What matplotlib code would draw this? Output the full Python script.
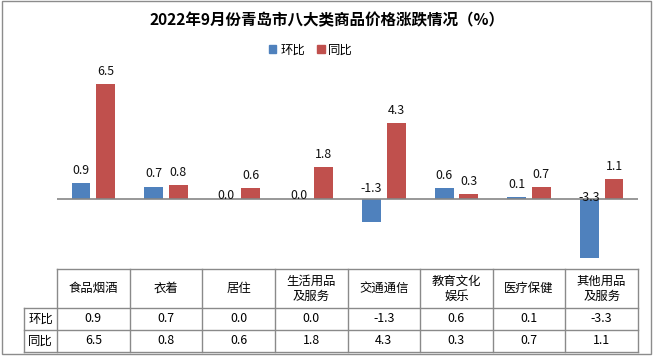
import matplotlib
matplotlib.use('Agg')
import matplotlib.pyplot as plt
from matplotlib.patches import Patch, Rectangle
import numpy as np

plt.rcParams['font.family'] = ['Noto Sans CJK SC', 'DejaVu Sans']

TITLE = '2022年9月份青岛市八大类商品价格涨跌情况（%）'
categorias = ['食品烟酒', '衣着', '居住', '生活用品\n及服务', '交通通信',
              '教育文化\n娱乐', '医疗保健', '其他用品\n及服务']
series_nomes = ['环比', '同比']
huanbi = [0.9, 0.7, 0.0, 0.0, -1.3, 0.6, 0.1, -3.3]
tongbi = [6.5, 0.8, 0.6, 1.8, 4.3, 0.3, 0.7, 1.1]

AZUL = '#4F81BD'
VERMELHO = '#C0504D'
CINZA = '#868686'
FS = 8.9

W, H = 654, 358
fig = plt.figure(figsize=(W / 100, H / 100), dpi=100)


def px(x0, y0, x1, y1):
    # retangulo em pixels -> coordenadas da figura
    return [x0 / W, 1 - y1 / H, (x1 - x0) / W, (y1 - y0) / H]


# area do grafico (pixels medidos na referencia)
AX_L, AX_R, AX_T, AX_B = 57, 638, 57, 270
ax = fig.add_axes(px(AX_L, AX_T, AX_R, AX_B))
x = np.arange(len(categorias))
larg = 0.26
desl = 0.17
ax.bar(x - desl, huanbi, width=larg, color=AZUL, zorder=2)
ax.bar(x + desl, tongbi, width=larg, color=VERMELHO, zorder=2)
ax.set_xlim(-0.5, len(categorias) - 0.5)
ax.set_ylim(-4, 8)
ax.axhline(0, color=CINZA, lw=1.2, zorder=3)
ax.axis('off')

# rotulos de dados (deslocamento em px acima da barra / do eixo)
off_hb = {2: 4, 3: 4, 4: 11, 7: 2}
for i, v in enumerate(huanbi):
    dy = off_hb.get(i, 13)
    ax.annotate(f'{v:.1f}', (x[i] - desl, max(v, 0)), xytext=(0, dy * 0.72),
                textcoords='offset points', ha='center', va='center',
                fontsize=FS, color='#111111', zorder=4)
for i, v in enumerate(tongbi):
    ax.annotate(f'{v:.1f}', (x[i] + desl, max(v, 0)), xytext=(0, 12.5 * 0.72),
                textcoords='offset points', ha='center', va='center',
                fontsize=FS, color='#111111', zorder=4)

# camada de sobreposicao em pixels
ov = fig.add_axes([0, 0, 1, 1], zorder=-1)
ov.set_xlim(0, W)
ov.set_ylim(H, 0)
ov.axis('off')
ov.add_patch(Rectangle((2, 1), 649, 353, fill=False, ec='#8c8c8c', lw=1))

fig.text(0.5, 1 - 20 / H, TITLE, ha='center', va='center',
         fontsize=11.2, fontweight='bold')

fig.legend(handles=[Patch(color=AZUL, label=series_nomes[0]),
                    Patch(color=VERMELHO, label=series_nomes[1])],
           loc='center', bbox_to_anchor=(311 / W, 1 - 50 / H), ncol=2,
           frameon=False, fontsize=FS, handlelength=0.6, handleheight=0.6,
           handletextpad=0.3, columnspacing=1.0, borderpad=0)

# tabela de dados
LINHA = '#8a8a8a'
col_w = (AX_R - AX_L) / len(categorias)
y_head0, y_head1, y_r1, y_r2 = 269, 308, 330, 352
lab_x0 = 24
ov.plot([AX_L, AX_R], [y_head0, y_head0], color=LINHA, lw=1)
for yy in (y_head1, y_r1, y_r2):
    ov.plot([lab_x0, AX_R], [yy, yy], color=LINHA, lw=1)
ov.plot([lab_x0, lab_x0], [y_head1, y_r2], color=LINHA, lw=1)
for k in range(len(categorias) + 1):
    xx = AX_L + k * col_w
    ov.plot([xx, xx], [y_head0, y_r2], color=LINHA, lw=1)

for k, nome in enumerate(categorias):
    cx = AX_L + (k + 0.5) * col_w
    ov.text(cx, (y_head0 + y_head1) / 2, nome, ha='center', va='center',
            fontsize=FS, linespacing=1.2)
    ov.text(cx, (y_head1 + y_r1) / 2, f'{huanbi[k]:.1f}', ha='center',
            va='center', fontsize=FS)
    ov.text(cx, (y_r1 + y_r2) / 2, f'{tongbi[k]:.1f}', ha='center',
            va='center', fontsize=FS)
ov.text((lab_x0 + AX_L) / 2, (y_head1 + y_r1) / 2, series_nomes[0],
        ha='center', va='center', fontsize=FS)
ov.text((lab_x0 + AX_L) / 2, (y_r1 + y_r2) / 2, series_nomes[1],
        ha='center', va='center', fontsize=FS)

fig.savefig('out.png', dpi=100)
